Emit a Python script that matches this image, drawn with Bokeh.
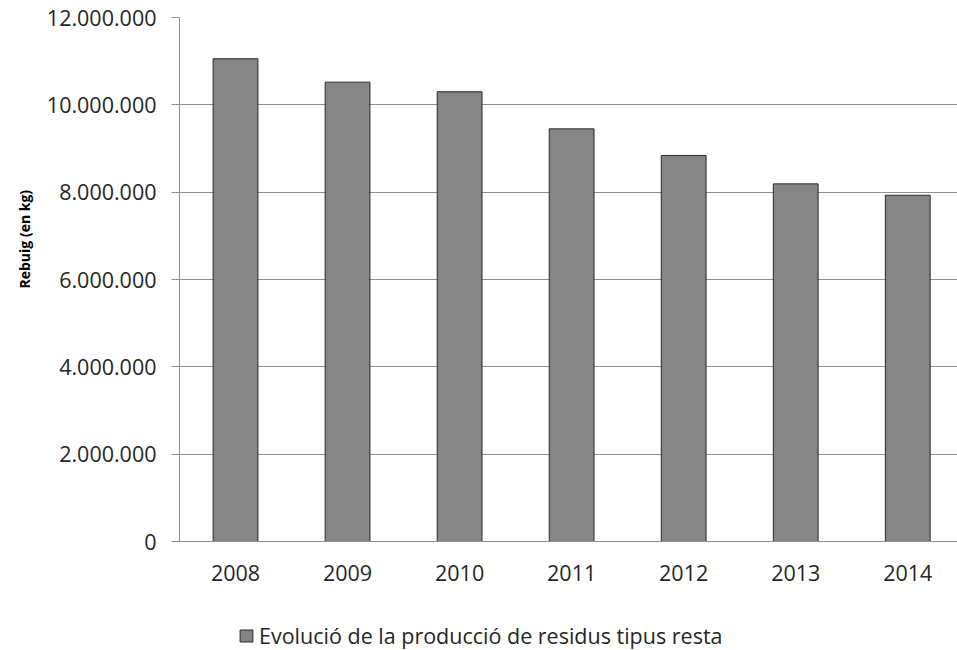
from bokeh.plotting import figure
from bokeh.layouts import column
from bokeh.models import Range1d, FixedTicker, Legend, LegendItem, ColumnDataSource, Title
from bokeh.embed import file_html
from bokeh.resources import INLINE

# ---- data ----
YEARS = [2008, 2009, 2010, 2011, 2012, 2013, 2014]
VALUES = [11055000, 10520000, 10300000, 9450000, 8840000, 8190000, 7930000]
Y_TICKS = [0, 2000000, 4000000, 6000000, 8000000, 10000000, 12000000]
Y_TICK_LABELS = ["0", "2.000.000", "4.000.000", "6.000.000", "8.000.000", "10.000.000", "12.000.000"]
SERIES_NAME = "Evolució de la producció de residus tipus resta"
Y_TITLE = "Rebuig (en kg)"

FONT = "Open Sans"
TEXT = "#262626"
GRID = "#8f8f8f"
BAR = "#858585"
BAR_LINE = "#2b2b2b"

W, H = 957, 595
p = figure(width=W, height=H, output_backend="svg", toolbar_location=None,
           x_range=Range1d(2007.5, 2014.444), y_range=Range1d(0, 12000000),
           min_border_left=179, min_border_right=0, min_border_top=17, min_border_bottom=54)
p.outline_line_color = None
p.background_fill_color = "white"
p.border_fill_color = "white"

src = ColumnDataSource(dict(x=YEARS, top=VALUES))
r = p.vbar(x="x", top="top", width=0.4, bottom=0, source=src,
           fill_color=BAR, line_color=BAR_LINE, line_width=1)

# y axis
p.yaxis.ticker = FixedTicker(ticks=Y_TICKS)
p.yaxis.major_label_overrides = {t: l for t, l in zip(Y_TICKS, Y_TICK_LABELS)}
p.yaxis.major_tick_out = 8
p.yaxis.major_tick_in = 0
p.yaxis.minor_tick_line_color = None
p.yaxis.major_tick_line_color = GRID
p.yaxis.axis_line_color = GRID
p.yaxis.major_label_text_font = FONT
p.yaxis.major_label_text_font_size = "21.5px"
p.yaxis.major_label_text_color = TEXT
p.yaxis.major_label_standoff = 15

# y-axis title, placed on the left and shifted up like the reference
ytitle = Title(text=Y_TITLE, align="left", offset=253, standoff=20,
               text_font=FONT, text_font_style="bold", text_font_size="14px",
               text_color="#000000")
p.add_layout(ytitle, "left")

# x axis
p.xaxis.ticker = FixedTicker(ticks=YEARS)
p.xaxis.major_label_overrides = {y: str(y) for y in YEARS}
p.xaxis.major_tick_out = 0
p.xaxis.major_tick_in = 0
p.xaxis.minor_tick_line_color = None
p.xaxis.axis_line_color = GRID
p.xaxis.major_label_text_font = FONT
p.xaxis.major_label_text_font_size = "21.5px"
p.xaxis.major_label_text_color = TEXT
p.xaxis.major_label_standoff = 23

p.xgrid.grid_line_color = None
p.ygrid.grid_line_color = GRID
p.ygrid.grid_line_width = 1

# legend strip below the chart (its frame is aligned with the chart's frame)
lf = figure(width=W, height=650 - H, output_backend="svg", toolbar_location=None,
            x_range=Range1d(0, 1), y_range=Range1d(0, 1),
            x_axis_type=None, y_axis_type=None,
            min_border_left=0, min_border_right=0, min_border_top=0, min_border_bottom=0)
lf.outline_line_color = None
lf.xgrid.grid_line_color = None
lf.ygrid.grid_line_color = None
swatch = lf.vbar(x=YEARS, top=VALUES, width=0.4, fill_color=BAR, line_color=BAR_LINE,
                 line_width=1, visible=False)
legend = Legend(items=[LegendItem(label=SERIES_NAME, renderers=[swatch])],
                location=(59, 0), orientation="horizontal",
                padding=0, margin=0, spacing=0,
                glyph_width=16, glyph_height=15, label_standoff=5,
                label_text_font=FONT, label_text_font_size="21.5px",
                label_text_color=TEXT, inactive_fill_alpha=0,
                border_line_color=None, background_fill_alpha=0)
lf.add_layout(legend, "center")

layout = column(p, lf, spacing=0)
open("out.html", "w").write(file_html(layout, INLINE))
